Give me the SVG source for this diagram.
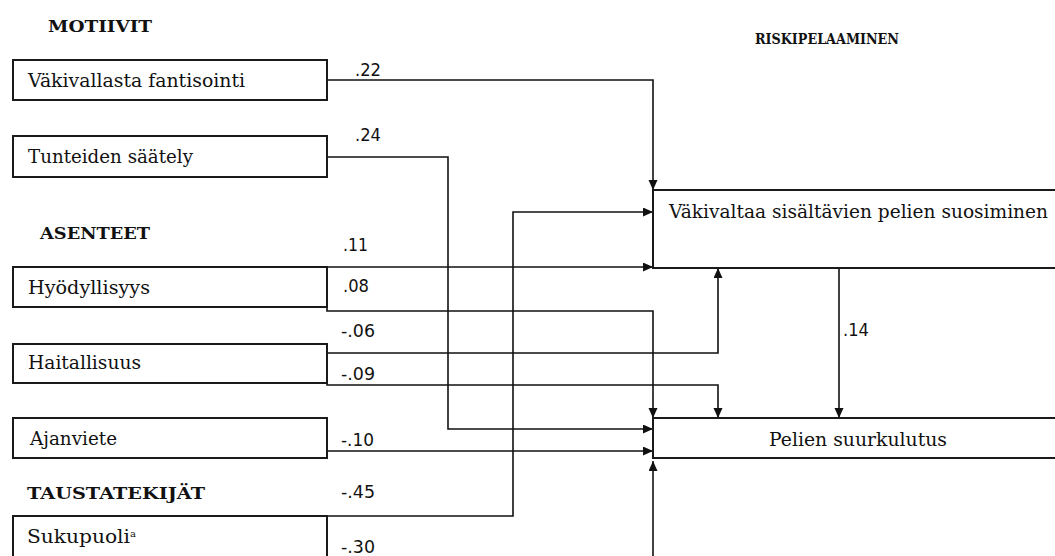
<svg xmlns="http://www.w3.org/2000/svg" width="1055" height="556" viewBox="0 0 1055 556">
  <style>
    .box { fill: #fff; stroke: #1a1a1a; stroke-width: 2; }
    .lbl { font-family: "DejaVu Serif", "Liberation Serif", serif; font-size: 18px; fill: #111; }
    .head { font-family: "DejaVu Serif", "Liberation Serif", serif; font-size: 16px; font-weight: bold; fill: #111; }
    .head.narrow { font-size: 15.5px; }
    .coef { font-family: "DejaVu Sans", "Liberation Sans", sans-serif; font-size: 17px; fill: #111; }
    .sup { font-size: 10px; }
    .wire { fill: none; stroke: #111; stroke-width: 1.6; }
    .arr { marker-end: url(#tip); }
  </style>
  <defs>
    <marker id="tip" markerUnits="userSpaceOnUse" markerWidth="11" markerHeight="10" refX="10" refY="4.5" orient="auto">
      <path d="M0,0 L10,4.5 L0,9 z" fill="#111"/>
    </marker>
  </defs>
  <rect width="1055" height="556" fill="#fff"/>

  <!-- section headings -->
  <text class="head" x="48" y="32" textLength="104" lengthAdjust="spacingAndGlyphs">MOTIIVIT</text>
  <text class="head narrow" x="755" y="44" textLength="144" lengthAdjust="spacingAndGlyphs">RISKIPELAAMINEN</text>
  <text class="head" x="40" y="239" textLength="110" lengthAdjust="spacingAndGlyphs">ASENTEET</text>
  <text class="head" x="27" y="499" textLength="178" lengthAdjust="spacingAndGlyphs">TAUSTATEKIJÄT</text>

  <!-- connectors -->
  <g id="connectors">
    <path class="wire arr" d="M327,80 H653 V190"/>
    <path class="wire arr" d="M327,157 H448 V429 H653"/>
    <path class="wire arr" d="M327,267 H653"/>
    <path class="wire arr" d="M327,307 V311 H653 V418"/>
    <path class="wire arr" d="M327,353 H718 V268"/>
    <path class="wire arr" d="M327,383 V385 H718 V418"/>
    <path class="wire arr" d="M327,451 H653"/>
    <path class="wire arr" d="M327,516 H513 V212 H653"/>
    <path class="wire arr" d="M653,556 V461"/>
    <path class="wire arr" d="M839,268 V418"/>
  </g>

  <!-- path coefficients -->
  <g id="coefficients">
    <text class="coef" x="355" y="76" textLength="26" lengthAdjust="spacingAndGlyphs">.22</text>
    <text class="coef" x="355" y="141" textLength="26" lengthAdjust="spacingAndGlyphs">.24</text>
    <text class="coef" x="343" y="251" textLength="25" lengthAdjust="spacingAndGlyphs">.11</text>
    <text class="coef" x="343" y="292" textLength="26" lengthAdjust="spacingAndGlyphs">.08</text>
    <text class="coef" x="341" y="337" textLength="34" lengthAdjust="spacingAndGlyphs">-.06</text>
    <text class="coef" x="341" y="380" textLength="34" lengthAdjust="spacingAndGlyphs">-.09</text>
    <text class="coef" x="341" y="446" textLength="33" lengthAdjust="spacingAndGlyphs">-.10</text>
    <text class="coef" x="341" y="498" textLength="34" lengthAdjust="spacingAndGlyphs">-.45</text>
    <text class="coef" x="341" y="553" textLength="34" lengthAdjust="spacingAndGlyphs">-.30</text>
    <text class="coef" x="843" y="336" textLength="26" lengthAdjust="spacingAndGlyphs">.14</text>
  </g>

  <!-- predictor nodes -->
  <g id="node-fantisointi">
    <rect class="box" x="13" y="60" width="314" height="40"/>
    <text class="lbl" x="28" y="87" textLength="217" lengthAdjust="spacingAndGlyphs">Väkivallasta fantisointi</text>
  </g>
  <g id="node-saately">
    <rect class="box" x="13" y="136" width="314" height="41"/>
    <text class="lbl" x="28" y="163" textLength="165" lengthAdjust="spacingAndGlyphs">Tunteiden säätely</text>
  </g>
  <g id="node-hyodyllisyys">
    <rect class="box" x="13" y="267" width="314" height="40"/>
    <text class="lbl" x="28" y="294" textLength="122" lengthAdjust="spacingAndGlyphs">Hyödyllisyys</text>
  </g>
  <g id="node-haitallisuus">
    <rect class="box" x="13" y="344" width="314" height="39"/>
    <text class="lbl" x="28" y="369" textLength="113" lengthAdjust="spacingAndGlyphs">Haitallisuus</text>
  </g>
  <g id="node-ajanviete">
    <rect class="box" x="13" y="418" width="314" height="40"/>
    <text class="lbl" x="30" y="445" textLength="87" lengthAdjust="spacingAndGlyphs">Ajanviete</text>
  </g>
  <g id="node-sukupuoli">
    <rect class="box" x="13" y="516" width="314" height="60"/>
    <text class="lbl" x="27" y="543"><tspan textLength="103" lengthAdjust="spacingAndGlyphs">Sukupuoli</tspan><tspan class="sup" dy="-6">a</tspan></text>
  </g>

  <!-- outcome nodes -->
  <g id="node-suosiminen">
    <rect class="box" x="653" y="190" width="420" height="78"/>
    <text class="lbl" x="669" y="218" textLength="379" lengthAdjust="spacingAndGlyphs">Väkivaltaa sisältävien pelien suosiminen</text>
  </g>
  <g id="node-suurkulutus">
    <rect class="box" x="653" y="418" width="420" height="40"/>
    <text class="lbl" x="769" y="446" textLength="178" lengthAdjust="spacingAndGlyphs">Pelien suurkulutus</text>
  </g>
</svg>
